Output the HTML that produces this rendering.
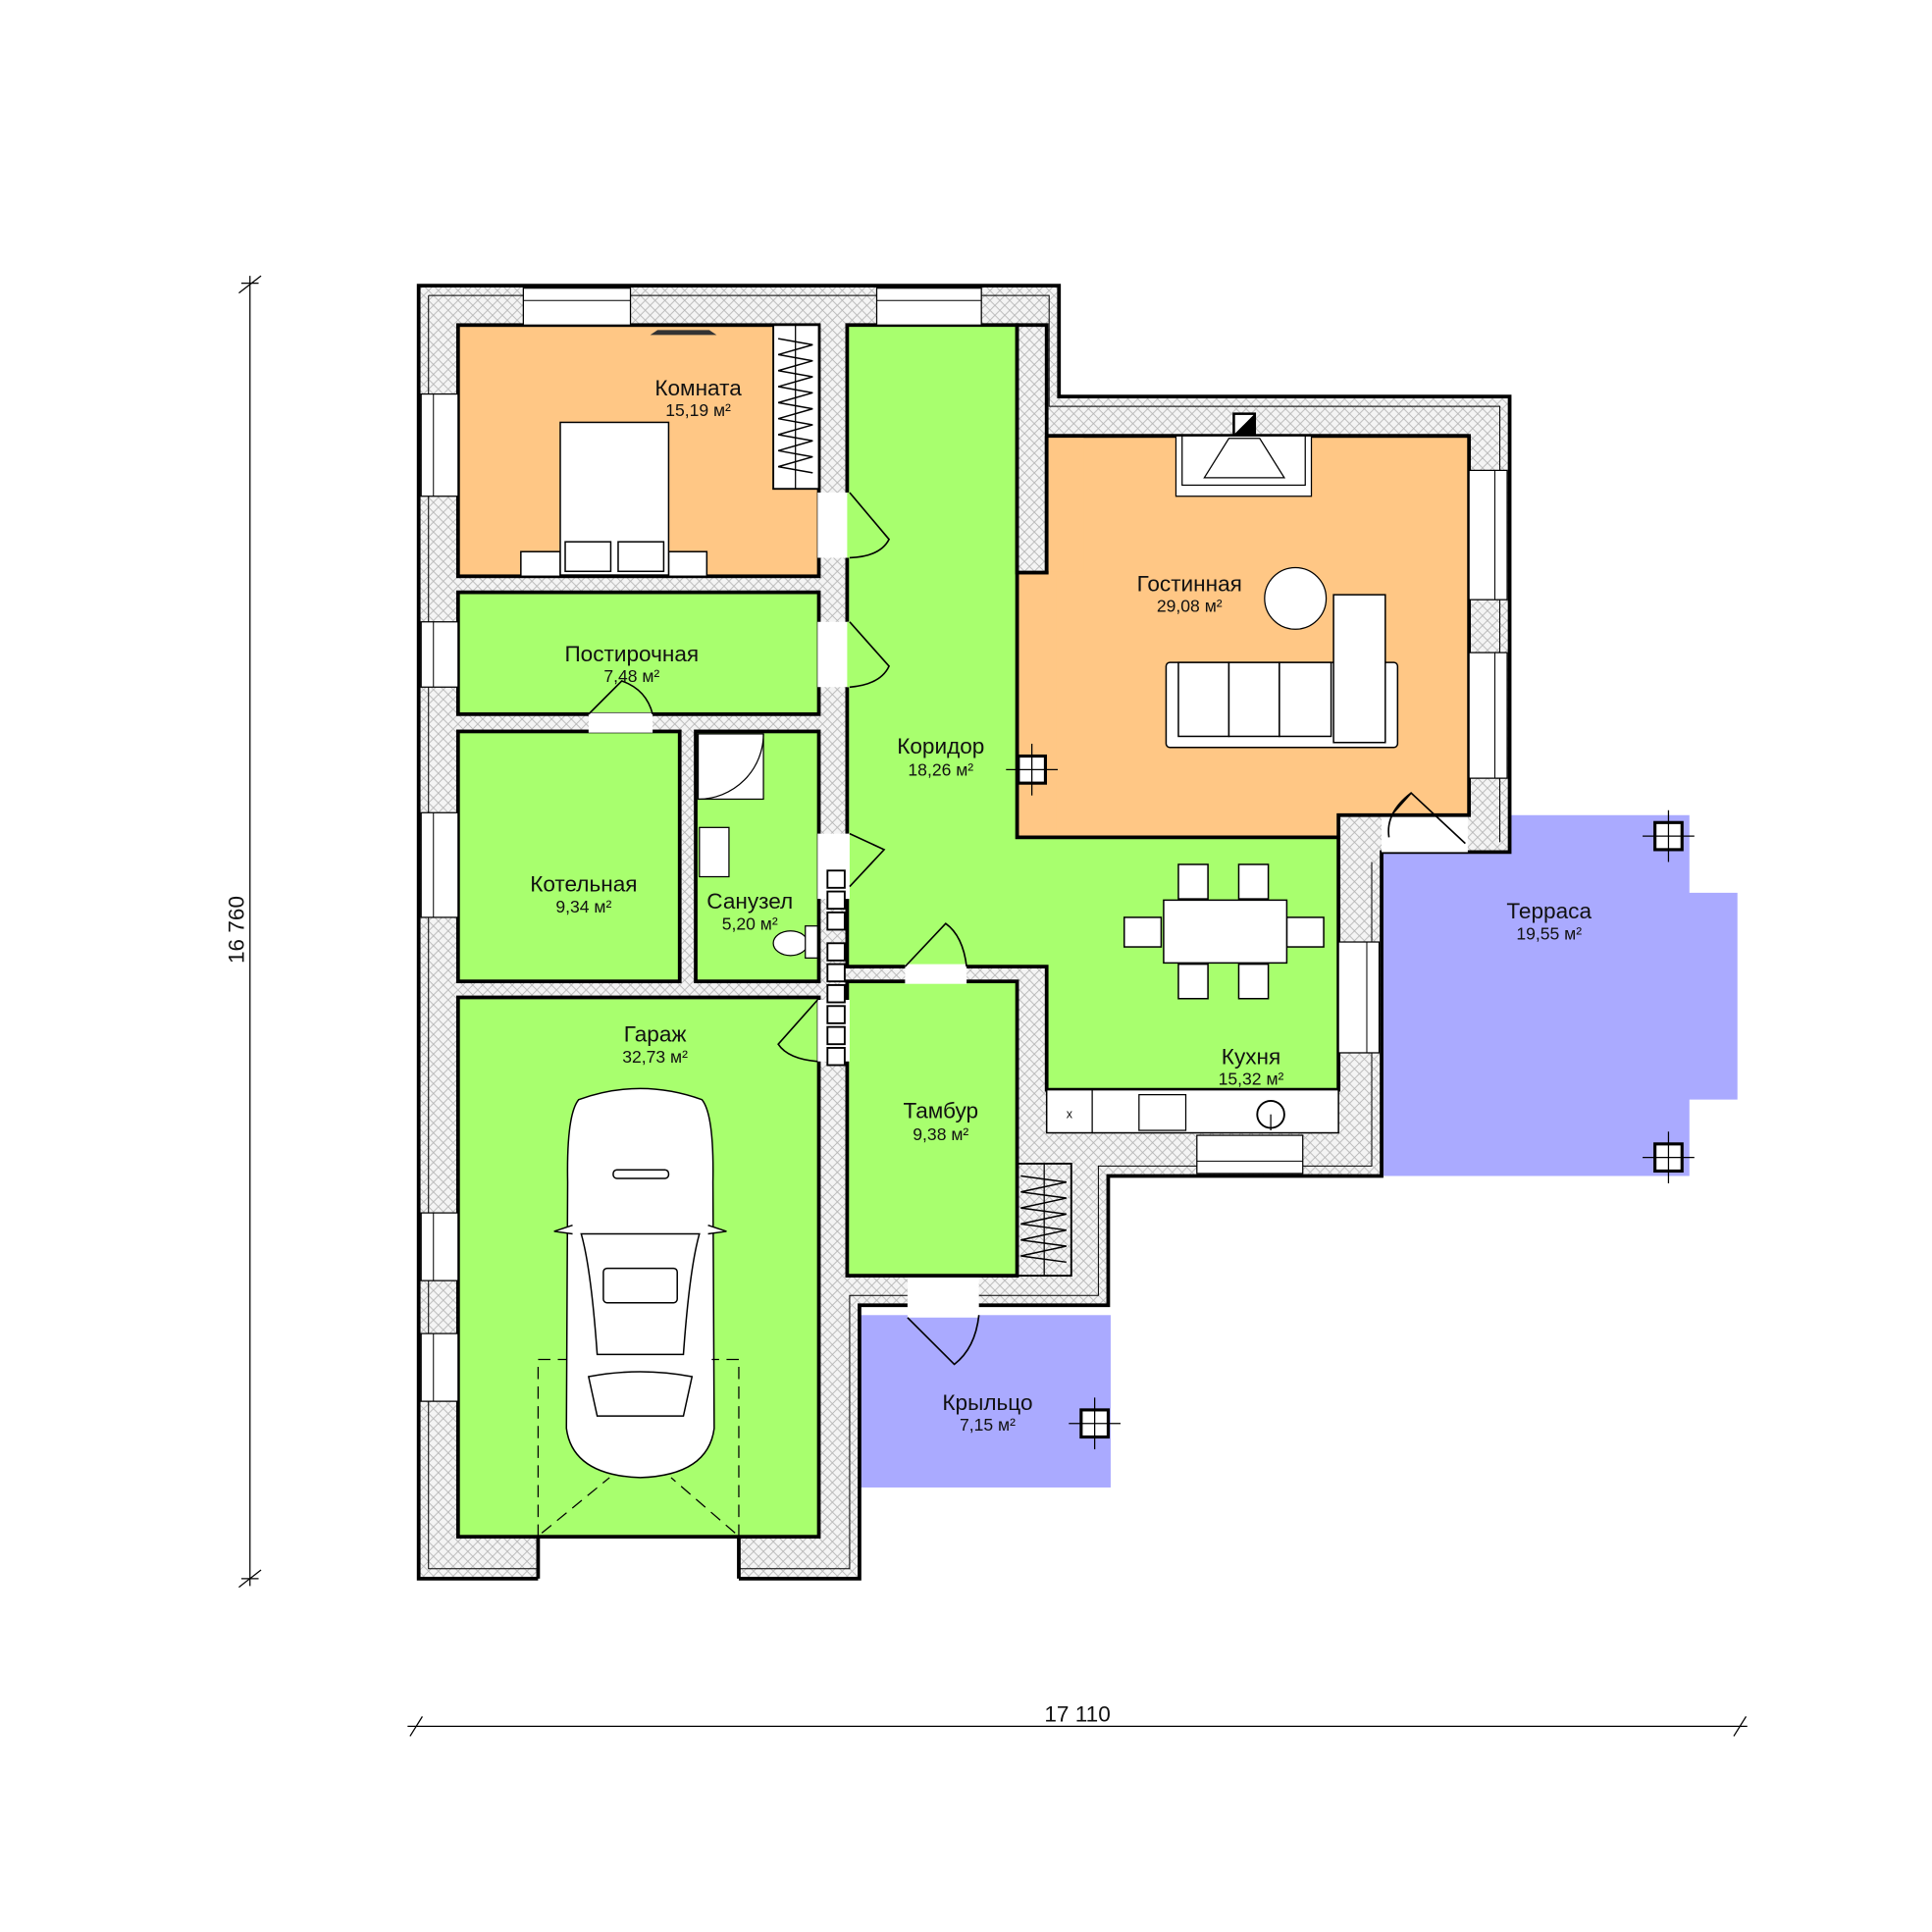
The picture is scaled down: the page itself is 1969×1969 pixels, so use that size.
<!DOCTYPE html>
<html><head><meta charset="utf-8"><style>
html,body{margin:0;padding:0;background:#fff}
svg{display:block}
text{font-family:"Liberation Sans",sans-serif;fill:#111}
.n{font-size:18px}
.a{font-size:14px}
</style></head><body>
<svg width="1969" height="1969" viewBox="0 0 1569 1569" xmlns="http://www.w3.org/2000/svg">
<defs>
<pattern id="h" width="8" height="8" patternUnits="userSpaceOnUse">
<rect width="8" height="8" fill="#f4f4f4"/>
<path d="M0,0 L8,8 M8,0 L0,8" stroke="#b5b5b5" stroke-width="0.7"/>
</pattern>
</defs>
<rect width="1569" height="1569" fill="#fff"/>

<polygon points="1122,662 1372,662 1372,725 1411,725 1411,893 1372,893 1372,955 1122,955" fill="#AAAAFF"/>
<rect x="698" y="1068" width="204" height="140" fill="#AAAAFF"/>

<polygon points="340,232 860,232 860,322 1226,322 1226,692 1122,692 1122,955 900,955 900,1060 698,1060 698,1282 340,1282" fill="url(#h)" stroke="#000" stroke-width="3"/>
<polyline points="348,240 852,240 852,330 1218,330 1218,684" fill="none" stroke="#000" stroke-width="0.8"/>
<polyline points="348,240 348,1274 690,1274 690,1052 892,1052 892,947 1114,947 1114,700" fill="none" stroke="#000" stroke-width="0.8"/>

<rect x="437" y="1249" width="163" height="36" fill="#fff"/>
<line x1="437" y1="1249" x2="437" y2="1282" stroke="#000" stroke-width="3"/>
<line x1="600" y1="1249" x2="600" y2="1282" stroke="#000" stroke-width="3"/>
<rect x="737" y="1036" width="58" height="34" fill="#fff"/>
<rect x="1122" y="662" width="70" height="30" fill="#fff"/>

<g stroke="#000" stroke-width="3">
<rect x="372" y="264" width="293" height="204" fill="#FFC785"/>
<rect x="372" y="481" width="293" height="99" fill="#A8FF6E"/>
<rect x="372" y="594" width="180" height="203" fill="#A8FF6E"/>
<rect x="565" y="594" width="100" height="203" fill="#A8FF6E"/>
<rect x="372" y="810" width="293" height="438" fill="#A8FF6E"/>
<rect x="688" y="797" width="138" height="239" fill="#A8FF6E"/>
<polygon points="850,354 1193,354 1193,662 1087,662 1087,680 826,680 826,465 850,465" fill="#FFC785"/>
<polygon points="688,264 826,264 826,465 826,680 1087,680 1087,885 850,885 850,785 688,785" fill="#A8FF6E"/>
</g>
<rect x="828" y="467" width="30" height="211" fill="#FFC785"/>
<rect x="828" y="682" width="257" height="8" fill="#A8FF6E"/>
<polygon points="826,264 850,264 850,465 826,465" fill="url(#h)" stroke="#000" stroke-width="3"/>
<rect x="850" y="354" width="30" height="110" fill="#FFC785"/>
<line x1="850" y1="354" x2="1193" y2="354" stroke="#000" stroke-width="3"/>
<line x1="850" y1="354" x2="850" y2="465" stroke="#000" stroke-width="3"/>

<g fill="#fff">
<rect x="664" y="400" width="26" height="53"/>
<rect x="664" y="505" width="26" height="53"/>
<rect x="664" y="677" width="26" height="53"/>
<rect x="664" y="812" width="26" height="50"/>
<rect x="735" y="783" width="50" height="16"/>
<rect x="478" y="579" width="52" height="16"/>
</g>
<rect x="688" y="400" width="4" height="53" fill="#A8FF6E"/>
<rect x="688" y="505" width="4" height="53" fill="#A8FF6E"/>

<g fill="none" stroke="#000" stroke-width="1.3">
<path d="M690,400 L722,438 Q715,452 690,453"/>
<path d="M690,505 L722,541 Q715,556 690,558"/>
<path d="M690,677 L718,690 L690,720"/>
<path d="M664,812 L632,848 Q640,860 664,862"/>
<path d="M735,785 L768,750 Q782,760 785,785"/>
<path d="M478,580 L505,553 Q525,560 530,580"/>
<path d="M1130,662 L1146,644 L1190,685"/>
<path d="M1128,680 Q1125,660 1146,644"/>
<path d="M737,1070 L775,1108 Q792,1095 795,1068"/>
</g>

<g fill="#fff" stroke="#000" stroke-width="1">
<rect x="425" y="234" width="87" height="30"/>
<rect x="712" y="234" width="85" height="30"/>
<rect x="342" y="320" width="30" height="83"/>
<rect x="342" y="505" width="30" height="53"/>
<rect x="342" y="660" width="30" height="85"/>
<rect x="342" y="985" width="30" height="55"/>
<rect x="342" y="1083" width="30" height="55"/>
<rect x="1193" y="382" width="31" height="105"/>
<rect x="1193" y="530" width="31" height="102"/>
<rect x="1087" y="765" width="33" height="90"/>
<rect x="972" y="922" width="86" height="31"/>
</g>
<g stroke="#000" stroke-width="0.8">
<line x1="425" y1="244" x2="512" y2="244"/><line x1="712" y1="244" x2="797" y2="244"/>
<line x1="352" y1="320" x2="352" y2="403"/><line x1="352" y1="505" x2="352" y2="558"/>
<line x1="352" y1="660" x2="352" y2="745"/><line x1="352" y1="985" x2="352" y2="1040"/>
<line x1="352" y1="1083" x2="352" y2="1138"/><line x1="1214" y1="382" x2="1214" y2="487"/>
<line x1="1214" y1="530" x2="1214" y2="632"/><line x1="1110" y1="765" x2="1110" y2="855"/>
<line x1="972" y1="943" x2="1058" y2="943"/>
</g>

<rect x="628" y="264" width="37" height="133" fill="#fff" stroke="#000" stroke-width="1.5"/>
<line x1="646" y1="264" x2="646" y2="397" stroke="#000"/>
<path d="M632,275 L660,280 L632,288 L660,293 L632,301 L660,306 L632,314 L660,319 L632,327 L660,332 L632,340 L660,345 L632,353 L660,358 L632,366 L660,371 L632,379 L660,384" fill="none" stroke="#000" stroke-width="1.2"/>
<path d="M829,955 L866,960 L829,968 L866,973 L829,981 L866,986 L829,994 L866,999 L829,1007 L866,1012 L829,1020 L866,1025" fill="none" stroke="#000" stroke-width="1.2"/>
<rect x="826" y="945" width="44" height="91" fill="none" stroke="#000" stroke-width="1.5"/>
<line x1="848" y1="945" x2="848" y2="1036" stroke="#000"/>
<path d="M528,272 L582,272 L576,268 L534,268 Z" fill="#333"/>

<g fill="#fff" stroke="#000" stroke-width="1.2">
<rect x="423" y="448" width="32" height="20"/>
<rect x="543" y="448" width="31" height="20"/>
<rect x="455" y="343" width="88" height="124"/>
<rect x="459" y="440" width="37" height="24"/>
<rect x="502" y="440" width="37" height="24"/>
</g>

<rect x="955" y="354" width="110" height="49" fill="#fff" stroke="#000"/>
<rect x="960" y="354" width="100" height="40" fill="#fff" stroke="#000"/>
<path d="M978,388 L998,356 L1023,356 L1043,388 Z" fill="none" stroke="#000"/>
<rect x="1002" y="336" width="17" height="17" fill="#fff" stroke="#000" stroke-width="2"/>
<path d="M1002,353 L1019,336 L1019,353 Z" fill="#000"/>
<circle cx="1052" cy="486" r="25" fill="#fff" stroke="#000"/>
<g fill="#fff" stroke="#000" stroke-width="1.2">
<rect x="947" y="538" width="188" height="69" rx="3"/>
<rect x="1083" y="483" width="42" height="120"/>
<rect x="957" y="538" width="41" height="60"/><rect x="998" y="538" width="41" height="60"/><rect x="1039" y="538" width="42" height="60"/>
</g>

<g fill="#fff" stroke="#000" stroke-width="1.2">
<rect x="957" y="702" width="24" height="28"/><rect x="1006" y="702" width="24" height="28"/>
<rect x="957" y="783" width="24" height="28"/><rect x="1006" y="783" width="24" height="28"/>
<rect x="913" y="745" width="30" height="24"/><rect x="1045" y="745" width="30" height="24"/>
<rect x="945" y="731" width="100" height="51"/>
</g>
<rect x="850" y="885" width="237" height="35" fill="#fff" stroke="#000" stroke-width="1.2"/>
<line x1="887" y1="885" x2="887" y2="920" stroke="#000"/>
<text x="866" y="908" style="font-size:10px">x</text>
<rect x="925" y="889" width="38" height="29" fill="#fff" stroke="#000"/>
<circle cx="1032" cy="905" r="11" fill="none" stroke="#000" stroke-width="1.5"/>
<line x1="1032" y1="905" x2="1032" y2="918" stroke="#000"/>

<rect x="567" y="596" width="53" height="53" fill="#fff" stroke="#000"/>
<path d="M567,649 A53,53 0 0 0 620,596" fill="none" stroke="#000"/>
<rect x="568" y="672" width="24" height="40" fill="#fff" stroke="#000"/>
<ellipse cx="642" cy="766" rx="14" ry="10" fill="#fff" stroke="#000"/>
<rect x="654" y="752" width="10" height="26" fill="#fff" stroke="#000"/>

<g fill="#fff" stroke="#000" stroke-width="1.5">
<rect x="672" y="707" width="14" height="14"/><rect x="672" y="724" width="14" height="14"/>
<rect x="672" y="741" width="14" height="14"/><rect x="672" y="766" width="14" height="14"/>
<rect x="672" y="783" width="14" height="14"/><rect x="672" y="800" width="14" height="14"/>
<rect x="672" y="817" width="14" height="14"/><rect x="672" y="834" width="14" height="14"/>
<rect x="672" y="851" width="14" height="14"/>
</g>

<g fill="#fff" stroke="#000" stroke-width="2.5">
<rect x="1344" y="668" width="22" height="22"/>
<rect x="1344" y="929" width="22" height="22"/>
<rect x="878" y="1145" width="22" height="22"/>
<rect x="827" y="614" width="22" height="22"/>
</g>
<g stroke="#000" stroke-width="1">
<line x1="1334" y1="679" x2="1376" y2="679"/><line x1="1355" y1="658" x2="1355" y2="700"/>
<line x1="1334" y1="940" x2="1376" y2="940"/><line x1="1355" y1="919" x2="1355" y2="961"/>
<line x1="868" y1="1156" x2="910" y2="1156"/><line x1="889" y1="1135" x2="889" y2="1177"/>
<line x1="817" y1="625" x2="859" y2="625"/><line x1="838" y1="604" x2="838" y2="646"/>
</g>

<g fill="#fff" stroke="#000" stroke-width="1.2">
<path d="M470,893 Q520,875 570,893 Q580,905 579,960 L580,1160 Q575,1198 520,1200 Q465,1198 460,1160 L461,960 Q460,905 470,893 Z"/>
<path d="M472,1002 L568,1002 Q560,1030 555,1100 L485,1100 Q480,1030 472,1002 Z"/>
<rect x="490" y="1030" width="60" height="28" rx="3"/>
<path d="M478,1118 Q520,1110 562,1118 L555,1150 L485,1150 Z"/>
<rect x="498" y="950" width="45" height="7" rx="3"/>
<path d="M465,995 L450,1000 L465,1002 M575,995 L590,1000 L575,1002"/>
</g>
<g fill="none" stroke="#000" stroke-width="1" stroke-dasharray="10,6">
<path d="M437,1248 L437,1104 L460,1104 M600,1248 L600,1104 L578,1104"/>
<path d="M440,1245 L495,1200 M597,1245 L545,1200"/>
</g>

<g text-anchor="middle">
<text class="n" x="567" y="321">Комната</text><text class="a" x="567" y="338">15,19 м²</text>
<text class="n" x="513" y="537">Постирочная</text><text class="a" x="513" y="554">7,48 м²</text>
<text class="n" x="474" y="724">Котельная</text><text class="a" x="474" y="741">9,34 м²</text>
<text class="n" x="609" y="738">Санузел</text><text class="a" x="609" y="755">5,20 м²</text>
<text class="n" x="532" y="846">Гараж</text><text class="a" x="532" y="863">32,73 м²</text>
<text class="n" x="764" y="612">Коридор</text><text class="a" x="764" y="630">18,26 м²</text>
<text class="n" x="966" y="480">Гостинная</text><text class="a" x="966" y="497">29,08 м²</text>
<text class="n" x="1016" y="864">Кухня</text><text class="a" x="1016" y="881">15,32 м²</text>
<text class="n" x="764" y="908">Тамбур</text><text class="a" x="764" y="926">9,38 м²</text>
<text class="n" x="1258" y="746">Терраса</text><text class="a" x="1258" y="763">19,55 м²</text>
<text class="n" x="802" y="1145">Крыльцо</text><text class="a" x="802" y="1162">7,15 м²</text>
<text class="n" x="875" y="1398">17 110</text>
</g>

<g stroke="#000" stroke-width="1">
<line x1="203" y1="224" x2="203" y2="1288"/>
<line x1="194" y1="238" x2="212" y2="224"/><line x1="194" y1="1289" x2="212" y2="1275"/>
<line x1="196" y1="230" x2="210" y2="230"/><line x1="196" y1="1282" x2="210" y2="1282"/>
<line x1="331" y1="1402" x2="1419" y2="1402"/>
<line x1="333" y1="1410" x2="343" y2="1394"/><line x1="1408" y1="1410" x2="1418" y2="1394"/>
</g>
<text class="n" x="198" y="755" text-anchor="middle" transform="rotate(-90 198 755)">16 760</text>
</svg>
</body></html>
